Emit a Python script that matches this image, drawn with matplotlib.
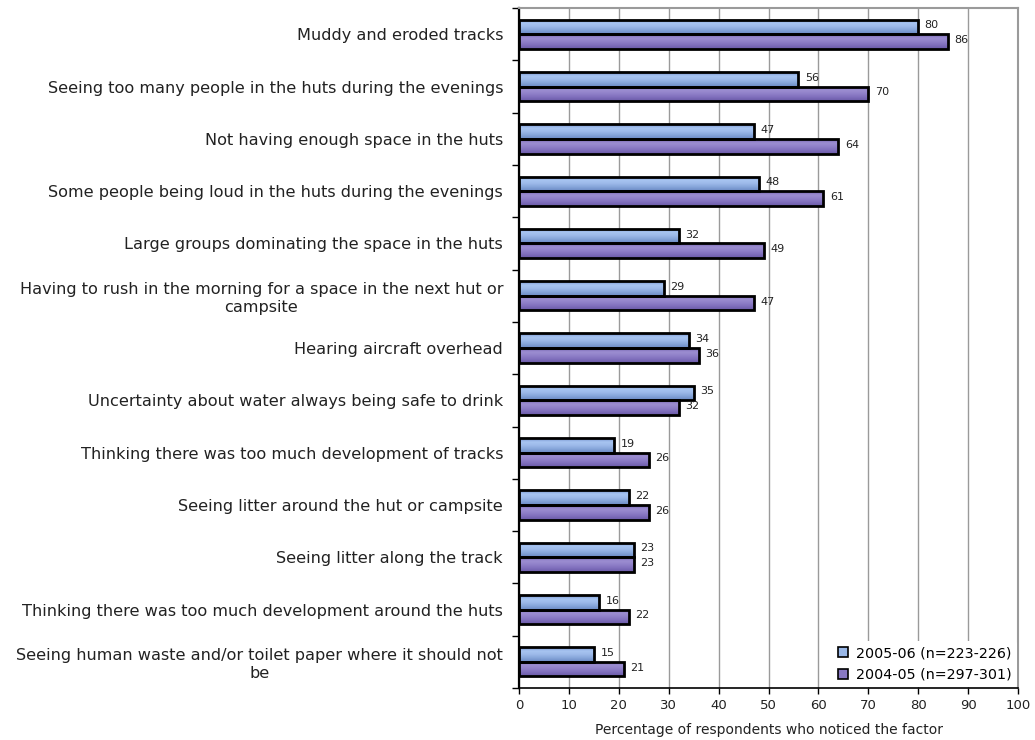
import numpy as np
import matplotlib
matplotlib.use("Agg")
import matplotlib.pyplot as plt
from matplotlib.lines import Line2D

# the reference text is wide, DejaVu Sans is the closest installed match
plt.rcParams['font.family'] = ['DejaVu Sans']

# Data
factors = [
    "Muddy and eroded tracks",
    "Seeing too many people in the huts during the evenings",
    "Not having enough space in the huts",
    "Some people being loud in the huts during the evenings",
    "Large groups dominating the space in the huts",
    "Having to rush in the morning for a space in the next hut or\ncampsite",
    "Hearing aircraft overhead",
    "Uncertainty about water always being safe to drink",
    "Thinking there was too much development of tracks",
    "Seeing litter around the hut or campsite",
    "Seeing litter along the track",
    "Thinking there was too much development around the huts",
    "Seeing human waste and/or toilet paper where it should not\nbe",
]
pct_2005 = [80, 56, 47, 48, 32, 29, 34, 35, 19, 22, 23, 16, 15]
pct_2004 = [86, 70, 64, 61, 49, 47, 36, 32, 26, 26, 23, 22, 21]
series_labels = ["2005-06 (n=223-226)", "2004-05 (n=297-301)"]

blue_grad = ["#6e8dc6", "#a8c5f2", "#9cb9e9", "#84a3d8", "#6a89c2"]
purple_grad = ["#6f5fab", "#9d8fd2", "#9081c9", "#7f6ebc", "#6a5aa6"]

fig = plt.figure(figsize=(10.35, 7.4), dpi=100)
ax = fig.add_axes([0.5015, 0.0703, 0.4821, 0.9187])

y = np.arange(len(factors))
h = 0.28


def gradient_bars(vals, offset, stops):
    bars = ax.barh(y + offset, vals, height=h, facecolor="none",
                   edgecolor="black", linewidth=2, zorder=4)
    cmap = matplotlib.colors.LinearSegmentedColormap.from_list("g", stops)
    grad = np.linspace(0, 1, 64).reshape(-1, 1)
    for b in bars:
        x0, y0 = b.get_x(), b.get_y()
        im = ax.imshow(grad, cmap=cmap, aspect="auto", zorder=3,
                       extent=[x0, x0 + b.get_width(), y0 + h, y0],
                       interpolation="bicubic")
        im.set_clip_path(b)
    return bars


b1 = gradient_bars(pct_2005, -h / 2, blue_grad)
b2 = gradient_bars(pct_2004, h / 2, purple_grad)

for bars, vals in ((b1, pct_2005), (b2, pct_2004)):
    for b, v in zip(bars, vals):
        ax.text(v + 1.3, b.get_y() + h / 2 - 0.03, f"{v}", va="center", ha="left",
                fontsize=8, color="#222222", zorder=5)

ax.set_xlim(0, 100)
ax.set_ylim(len(factors) - 0.5, -0.5)
ax.set_xticks(np.arange(0, 101, 10))
ax.tick_params(axis="x", length=4, width=1, labelsize=9.5, direction="out", pad=4,
               labelcolor="#222222")
ax.set_yticks(y)
ax.set_yticklabels(factors, fontsize=11.65, ma="center", color="#222222")
ax.set_yticks(np.arange(-0.5, len(factors), 1), minor=True)
ax.tick_params(axis="y", which="major", length=0, pad=11.5)
ax.tick_params(axis="y", which="minor", length=5, width=1, direction="out")

ax.grid(axis="x", color="#9a9a9a", linewidth=1, zorder=0)
ax.set_axisbelow(True)
for side in ("top", "right"):
    ax.spines[side].set_color("#9a9a9a")
    ax.spines[side].set_linewidth(1.5)
ax.spines["left"].set_linewidth(1.6)
ax.spines["bottom"].set_linewidth(1.2)

ax.set_xlabel("Percentage of respondents who noticed the factor", fontsize=10,
              labelpad=8, color="#222222")

handles = [Line2D([], [], marker="s", linestyle="none", markersize=7,
                  markerfacecolor=c, markeredgecolor="black", markeredgewidth=1.2)
           for c in ("#9ab8e8", "#8878c2")]
leg = ax.legend(handles, series_labels, loc="lower right", frameon=True,
                fontsize=10.3, handletextpad=0.4, borderaxespad=0.05,
                labelspacing=0.5, handlelength=1.0)
leg.get_frame().set_edgecolor("none")
leg.get_frame().set_facecolor("white")
leg.get_frame().set_alpha(1)
leg.set_zorder(6)

fig.savefig("out.png", dpi=100)
